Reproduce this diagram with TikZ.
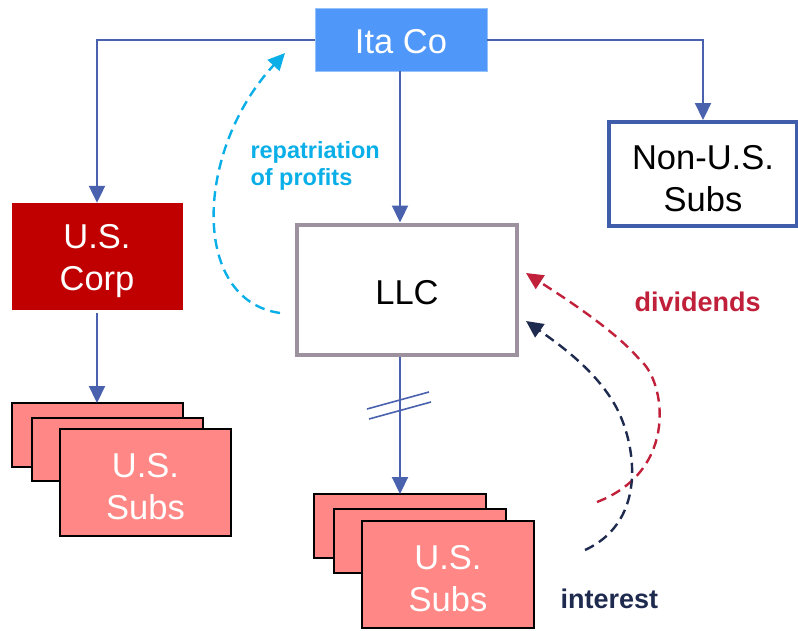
\documentclass[tikz,border=0pt]{standalone}
\usepackage{fontspec}
\setmainfont{Liberation Sans}
\usetikzlibrary{arrows.meta}
\definecolor{itablue}{HTML}{4F97F9}
\definecolor{linkblue}{HTML}{4A62AE}
\definecolor{corpred}{HTML}{C00000}
\definecolor{subpink}{HTML}{FF8886}
\definecolor{llcgray}{HTML}{9E919F}
\definecolor{nonusblue}{HTML}{3F5DAA}
\definecolor{repcyan}{HTML}{0BAFE8}
\definecolor{divred}{HTML}{C0203A}
\definecolor{intnavy}{HTML}{1F2A4F}
% tall strut that pushes box text slightly below centre
\newcommand\boxstrut{\rule{0pt}{33pt}}
\begin{document}
\begin{tikzpicture}[x=1pt,y=-1pt,
  bigtext/.style={font=\fontsize{34.5}{42}\selectfont, align=center},
  entity/.style={rectangle, inner sep=0pt, bigtext},
  subbox/.style={draw=black, line width=1.4pt, fill=subpink},
  link/.style={draw=linkblue, line width=2.2pt, -{Triangle[length=17pt,width=16pt]}},
  flow/.style={dash pattern=on 10pt off 6pt, line width=2.4pt},
  flowtip/.style={-{Triangle[length=17pt,width=16pt]}},
  flowlabel/.style={font=\bfseries\fontsize{27}{30}\selectfont, anchor=west, align=left}]
\useasboundingbox (0,0) rectangle (798,630);

% top-level parent
\node[entity, fill=itablue, draw=itablue!60, line width=0.8pt, text=white,
  minimum width=172pt, minimum height=63pt] (ita) at (401,39.5) {\rule{0pt}{29pt}Ita Co};

% first-tier entities
\node[entity, fill=corpred, text=white, minimum width=171pt, minimum height=107pt]
  (corp) at (97,256.5) {\boxstrut U.S.\\Corp};
\node[entity, draw=llcgray, line width=4pt, fill=white,
  minimum width=220pt, minimum height=130pt] (llc) at (407,289.5) {\rule{0pt}{30pt}LLC};
\node[entity, draw=nonusblue, line width=4pt, fill=white,
  minimum width=188pt, minimum height=104pt] (nonus) at (703,174) {\boxstrut Non-U.S.\\Subs};

% stacked subsidiaries under U.S. Corp
\draw[subbox] (12,403) rectangle (183,467);
\draw[subbox] (32,418) rectangle (203,481);
\node[entity, subbox, text=white, minimum width=171pt, minimum height=107pt]
  (lsubs) at (145.5,482.5) {\boxstrut U.S.\\Subs};
\coordinate (lstack) at (97,403);
\coordinate (corpout) at (97,313);

% stacked subsidiaries under LLC
\draw[subbox] (314,494) rectangle (486,558);
\draw[subbox] (334,509) rectangle (506,573);
\node[entity, subbox, text=white, minimum width=172pt, minimum height=107pt]
  (bsubs) at (448,574.5) {\boxstrut U.S.\\Subs};
\coordinate (bstack) at (400,494);

% ownership links
\draw[link] (ita.west |- 0,40) -| (corp.north);
\draw[link] (ita.east |- 0,40) -| (nonus.north);
\draw[link] (ita.south -| 400,0) -- (llc.north -| 400,0);
\draw[link] (corpout) -- (lstack);
\draw[link] (llc.south -| 400,0) -- (bstack);

% break marks on the LLC link
\coordinate (b1a) at (367,409); \coordinate (b1b) at (429,392);
\coordinate (b2a) at (369,419); \coordinate (b2b) at (431,402);
\draw[linkblue, line width=1.6pt] (b1a) -- (b1b);
\draw[linkblue, line width=1.6pt] (b2a) -- (b2b);

% flows of funds
\coordinate (repS) at (280,313);
\coordinate (repE) at (285,53);
\draw[flow, repcyan, flowtip] (repS) .. controls (190,300) and (195,150) .. (repE);
\node[flowlabel, text=repcyan, font=\bfseries\fontsize{23.5}{27}\selectfont]
  (replbl) at (247,166) {repatriation\\of profits};

\coordinate (divS) at (597,502);
\coordinate (divE) at (526,273);
\draw[flow, divred, flowtip] (divS) .. controls (680,470) and (665,380) .. (640,360)
  .. controls (615,330) and (560,295) .. (divE);
\node[flowlabel, text=divred] (divlbl) at (631,302) {dividends};

\coordinate (intS) at (585,550);
\coordinate (intE) at (526,321);
\draw[flow, intnavy, flowtip] (intS) .. controls (650,520) and (635,440) .. (615,405)
  .. controls (595,370) and (560,345) .. (intE);
\node[flowlabel, text=intnavy] (intlbl) at (557,599) {interest};
\end{tikzpicture}
\end{document}
